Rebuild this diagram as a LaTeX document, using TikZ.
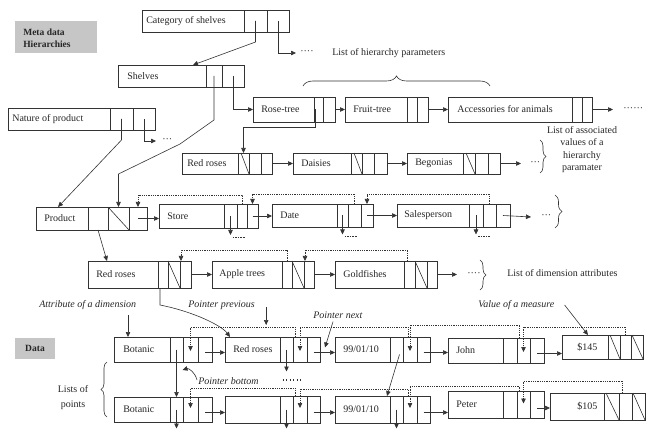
\documentclass[tikz,border=0pt]{standalone}
\usepackage{fontspec}
\setmainfont{Liberation Serif}
\usetikzlibrary{arrows.meta,calc,decorations.pathreplacing}

\newcommand\rec[7]{%
  \node[box, minimum width={(#5-#4)*1pt}, minimum height={(#3-#2)*1pt}] (#1) at (#4,#2) {};
  \node[lab] (#1t) at (#7,{(#2+#3)/2}) {#6};
}
\newcommand\cells[4]{%
  \foreach \a/\b [count=\i] in {#4}{%
    \node[box, minimum width={(\b-\a)*1pt}, minimum height={(#3-#2)*1pt}] (#1c\i) at (\a,#2) {};
  }}

\begin{document}
\begin{tikzpicture}[x=1pt,y=-1pt,
  line width=0.6pt, draw=black!80,
  every node/.style={font=\fontsize{10}{12}\selectfont, text=black!85},
  box/.style={draw=black!80, anchor=north west, inner sep=0pt, outer sep=0pt},
  lab/.style={anchor=west, inner sep=0pt},
  it/.style={font=\fontsize{10}{12}\selectfont\itshape},
  arr/.style={-{Triangle[length=5pt,width=4.5pt]}},
  ptr/.style={dash pattern=on 0.8pt off 1pt, -{Triangle[length=5pt,width=4.5pt]}},
  dsh/.style={dash pattern=on 1.6pt off 1pt},
  brace/.style={decorate, decoration={brace, amplitude=#1}},
  gbox/.style={fill=gray!45, anchor=north west, inner sep=0pt, minimum width=#1},
]
\useasboundingbox (0,0) rectangle (646,433);

% ---------- Meta data hierarchies ----------
\node[gbox=82pt, minimum height=32pt] (meta) at (15,21) {};
\node[lab, align=left, font=\fontsize{9.5}{12}\selectfont\bfseries] (metat) at (23,38) {Meta data\\Hierarchies};

\rec{cat}{10}{32}{142}{244}{Category of shelves}{146}
\cells{cat}{10}{32}{244/267,267/289}

\rec{shel}{65}{87}{118}{206}{Shelves}{127}
\cells{shel}{65}{87}{206/222,222/244}

\rec{nat}{108}{130}{8}{110}{Nature of product}{12}
\cells{nat}{108}{130}{110/133,133/155}

\rec{rose}{97}{122}{253}{314}{Rose-tree}{261}
\cells{rose}{97}{122}{314/323,323/335}
\rec{fruit}{97}{122}{345}{407}{Fruit-tree}{353}
\cells{fruit}{97}{122}{407/417,417/428}
\rec{acc}{97}{122}{448}{572}{Accessories for animals}{457}
\cells{acc}{97}{122}{572/582,582/592}

\rec{rr}{153}{174}{182}{238}{Red roses}{187}
\cells{rr}{153}{174}{238/249,249/261,261/272}
\rec{dai}{153}{174}{293}{351}{Daisies}{301}
\cells{dai}{153}{174}{351/362,362/374,374/387}
\rec{beg}{153}{174}{407}{463}{Begonias}{415}
\cells{beg}{153}{174}{463/475,475/488,488/500}
\foreach \n in {rr,dai,beg}{\draw ($(\n c1.north west)+(3,0)$) -- (\n c1.south east);}

\rec{prod}{207}{230}{36}{88}{Product}{44}
\cells{prod}{207}{230}{88/108,108/129,129/147}
\rec{store}{204}{228}{159}{224}{Store}{167}
\cells{store}{204}{228}{224/237,237/247,247/258}
\rec{date}{204}{227}{272}{337}{Date}{280}
\cells{date}{204}{227}{337/348,348/361,361/373}
\rec{sales}{204}{227}{397}{469}{Salesperson}{404}
\cells{sales}{204}{227}{469/483,483/496,496/510}
\draw (prodc2.north west) -- (prodc2.south east);

\rec{rrd}{261}{288}{88}{158}{Red roses}{96}
\cells{rrd}{261}{288}{158/168,168/180,180/191}
\rec{app}{261}{288}{212}{282}{Apple trees}{219}
\cells{app}{261}{288}{282/292,292/304,304/314}
\rec{gold}{261}{288}{335}{404}{Goldfishes}{343}
\cells{gold}{261}{288}{404/415,415/427,427/437}
\foreach \n in {rrd,app,gold}{\draw (\n c2.north west) -- (\n c2.south east);}

% hierarchy connectors
\draw[arr] (catc1.center) -- ++(0,21) -- ($(shel.north west)+(75,0)$);
\node[lab] (dots1) at (300,53) {····};
\draw[arr] (catc2.center) |- ($(dots1.west)+(-4,0)$);
\node[lab] (lhp) at (332,53) {List of hierarchy parameters};
\draw[brace=10pt] (303,86) -- (490,86);

\draw[arr] (shelc1.center) -- ++(0,44) -- ++(-34,24) -- ($(prodc2.north)+(0,-33)$) -- (prodc2.north);
\draw[arr] (shelc2.center) |- (rose.west);
\draw[arr] (natc1.center) -- ++(0,21) -- ($(prod.north west)+(22,0)$);
\node[lab] (dots2) at (162,141) {···};
\draw[arr] (natc2.center) |- ($(dots2.west)+(-6,0)$);

\draw[arr] (rosec2.east) -- (fruit.west);
\draw[arr] (fruitc2.east) -- (acc.west);
\node[lab] (dots3) at (623,109.5) {······};
\draw[arr] (accc2.east) -- ($(dots3.west)+(-10,0)$);

\draw[arr] ($(rosec1.center)+(-3,0)$) -- ++(0,18) -| (rrc1.north);
\draw[arr] (rrc3.east) -- (dai.west);
\draw[arr] (daic3.east) -- (beg.west);
\node[lab] (dots4) at (530,163.5) {···};
\draw[arr] (begc3.east) -- ($(dots4.west)+(-9,0)$);
\draw[brace=6pt] (540,140) -- (540,173);
\node[align=center, font=\fontsize{10}{12.4}\selectfont] (lav) at (582,149.5) {List of associated\\values of a\\hierarchy\\paramater};

% dimensions
\draw[arr] (prodc3.center) -- (prodc3.center -| store.west);
\draw[arr] (storec3.center) -- (storec3.center -| date.west);
\draw[arr] (datec3.center) -- (datec3.center -| sales.west);
\node[lab] (dots5) at (541,217) {···};
\draw[arr] (salesc3.center) -- ($(dots5.west)+(-10,0)$);
\draw[brace=7pt] (555,195) -- (555,228);

\foreach \n in {store,date,sales}{%
  \draw[arr] (\n c1.center) -- ++(0,19) coordinate (\n d);
  \draw[dsh] ($(\n d)+(2,2)$) -- ++(12,0);
}
\draw[ptr] (storec2.north) -- ++(0,-9) -| (prodc3.north);
\draw[ptr] (datec2.north) -- ++(0,-10) -| (storec3.north);
\draw[ptr] (salesc2.north) -- ++(0,-10) -| (datec3.north);

\draw[arr] (prodc1.south) -- ($(rrd.north west)+(19,0)$);
\draw[arr] (rrdc3.east) -- (app.west);
\draw[arr] (appc3.east) -- (gold.west);
\node[lab] (dots6) at (467,274.5) {····};
\draw[arr] (goldc3.east) -- ($(dots6.west)+(-10,0)$);
\draw[brace=6pt] (480,260) -- (480,290);
\node[lab] (lda) at (507,273) {List of dimension attributes};
\draw[ptr] (appc1.north) -- ++(0,-11) -| ($(rrdc3.north west)+(1,0)$);
\draw[ptr] ($(goldc1.north)+(-2,0)$) -- ++(0,-11) -| ($(appc3.north west)+(1,0)$);

% ---------- Data ----------
\node[gbox=40pt, minimum height=21pt] (datab) at (15,338) {};
\node[font=\fontsize{9.5}{12}\selectfont\bfseries] (datat) at (35,348.5) {Data};

\rec{botA}{337}{362}{114}{170}{Botanic}{123}
\cells{botA}{337}{362}{170/183,183/198,198/212}
\rec{rrv}{337}{362}{225}{280}{Red roses}{233}
\cells{rrv}{337}{362}{280/293,293/307,307/320}
\rec{dtA}{337}{362}{335}{390}{99/01/10}{343}
\cells{dtA}{337}{362}{390/403,403/417,417/430}
\rec{john}{338}{363}{448}{503}{John}{456}
\cells{john}{338}{363}{503/517,517/530,530/544}
\rec{mA}{335}{359}{562}{608}{\$145}{577}
\cells{mA}{335}{359}{608/620,620/631,631/643}

\rec{botB}{397}{422}{114}{170}{Botanic}{123}
\cells{botB}{397}{422}{170/183,183/198,198/212}
\rec{emp}{396}{423}{225}{280}{}{233}
\cells{emp}{396}{423}{280/293,293/307,307/320}
\rec{dtB}{396}{423}{335}{390}{99/01/10}{343}
\cells{dtB}{396}{423}{390/403,403/417,417/430}
\rec{peter}{391}{418}{448}{503}{Peter}{456}
\cells{peter}{391}{418}{503/517,517/530,530/544}
\rec{mB}{393}{420}{550}{604}{\$105}{577}
\cells{mB}{393}{420}{604/619,619/632,632/645}
\foreach \n in {mA,mB}{%
  \draw ($(\n c1.north west)+(2,0)$) -- (\n c1.south east);
  \draw ($(\n c3.north west)+(1,0)$) -- (\n c3.south east);}

\node[lab, it] (aod) at (39,305) {Attribute of a dimension};
\draw[arr] ($(botA.north west)+(14,-22)$) -- ($(botA.north west)+(14,0)$);

\draw[arr] ($(botAc3.center)+(0,3)$) -- ($(rrv.west)+(0,3)$);
\draw[arr] ($(rrvc3.center)+(0,3)$) -- ($(dtA.west)+(0,3)$);
\draw[arr] ($(dtAc3.center)+(0,3)$) -- ($(john.west)+(0,2)$);
\draw[arr] ($(johnc3.center)+(0,3)$) -- ($(mA.west)+(0,6.5)$);

\draw[arr] ($(botBc3.center)+(0,3)$) -- ($(emp.west)+(0,3)$);
\draw[arr] ($(empc3.center)+(0,3)$) -- ($(dtB.west)+(0,3)$);
\draw[arr] ($(dtBc3.center)+(0,3)$) -- ($(peter.west)+(0,8)$);
\draw[arr] ($(peterc3.center)+(0,3.5)$) -- ($(mB.west)+(0,1.5)$);

\draw[ptr] ($(rrvc2.north)+(-5,0)$) -- ++(0,-10) -| ($(botAc2.center)+(0,1.5)$);
\draw[ptr] ($(dtAc2.north)+(-2,0)$) -- ++(0,-10) -| ($(rrvc2.center)+(0,1.5)$);
\draw[ptr] ($(johnc2.north)+(-4,0)$) -- ++(0,-13) -| ($(dtAc2.center)+(0,1.5)$);
\draw[ptr] (mAc2.north) -- ++(0,-8) -| ($(johnc2.center)+(0,1.5)$);

\draw[ptr] ($(empc2.north)+(-5,0)$) -- ++(0,-8) -| ($(botBc2.center)+(0,-1.5)$);
\draw[ptr] ($(dtBc2.north)+(-2,0)$) -- ++(0,-7) -| ($(empc2.center)+(0,-1.5)$);
\draw[ptr] ($(peterc2.north)+(-4,0)$) -- ++(0,-5) -| ($(dtBc2.center)+(0,-1.5)$);
\draw[ptr] ($(mBc2.north)+(-3,0)$) -- ++(0,-12) -| ($(peterc2.center)+(0,-1)$);

\draw[arr] (botAc1.center) -- (botBc1.north);
\draw[arr] (botBc1.center) -- ++(0,19);
\draw[arr] (rrvc1.center) -- ++(0,22);
\draw[line width=1.1pt, dash pattern=on 1.1pt off 2.4pt] ($(rrvc1.south)+(-4,18)$) -- ++(20,0);
\draw[arr] (empc1.center) -- ++(0,19);
\draw[arr] ($(dtAc1.center)+(3,5)$) -- ($(dtB.north east)+(-3,0)$);
\draw[arr] (dtBc1.center) -- ++(0,19);

\draw[arr] ($(rrdc1.south)+(-3,0)$) -- ++(0,17) .. controls +(35,7) and +(-8,-11) .. ($(rrv.north west)+(5,0)$);

\node[lab, it] (ppv) at (188,305) {Pointer previous};
\draw[arr] ($(ppv.east)+(11,2)$) -- ++(0,18);
\node[lab, it] (pnx) at (313,315) {Pointer next};
\draw[arr] ($(pnx.south west)+(20,3)$) -- ($(rrvc3.east)+(5,-2)$);
\node[lab, it] (pbt) at (198,381) {Pointer bottom};
\draw[arr] ($(pbt.west)+(-1,-1)$) .. controls +(-2,-8) and +(6,-2) .. ($(botAc1.south)+(6,8)$);
\node[lab, it] (vom) at (478,305) {Value of a measure};
\draw[arr] ($(vom.east)+(10,0)$) -- ($(mA.north)+(3,0)$);

\draw[brace=6pt] (107,417) -- (107,362);
\node[align=center, font=\fontsize{10}{15}\selectfont] (lop) at (73,397.5) {Lists of\\points};
\end{tikzpicture}
\end{document}
